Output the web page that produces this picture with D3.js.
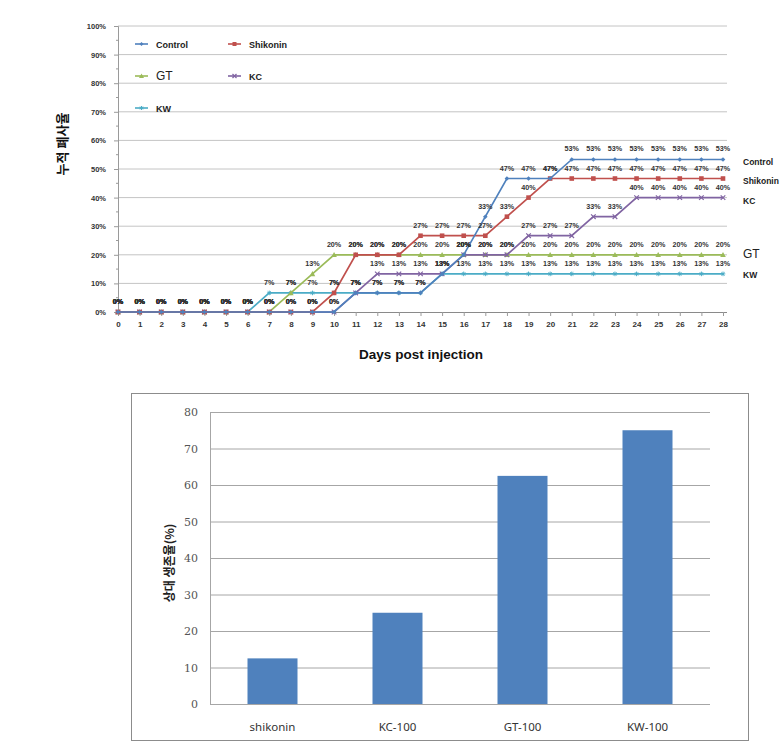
<!DOCTYPE html>
<html>
<head>
<meta charset="utf-8">
<script src="https://cdn.jsdelivr.net/npm/d3@7"></script>
<style>
  html, body { margin: 0; padding: 0; background: #fff; }
  svg { display: block; }
</style>
</head>
<body>
<svg id="chart" width="781" height="750"></svg>
<script>
// ---------- Data: top chart (cumulative mortality, %) ----------
const days = [0,1,2,3,4,5,6,7,8,9,10,11,12,13,14,15,16,17,18,19,20,21,22,23,24,25,26,27,28];
const controlVals  = [0,0,0,0,0,0,0,0,0,0,0,6.67,6.67,6.67,6.67,13.33,20,33.33,46.67,46.67,46.67,53.33,53.33,53.33,53.33,53.33,53.33,53.33,53.33];
const shikoninVals = [0,0,0,0,0,0,0,0,0,0,6.67,20,20,20,26.67,26.67,26.67,26.67,33.33,40,46.67,46.67,46.67,46.67,46.67,46.67,46.67,46.67,46.67];
const gtVals       = [0,0,0,0,0,0,0,0,6.67,13.33,20,20,20,20,20,20,20,20,20,20,20,20,20,20,20,20,20,20,20];
const kcVals       = [0,0,0,0,0,0,0,0,0,0,0,6.67,13.33,13.33,13.33,13.33,20,20,20,26.67,26.67,26.67,33.33,33.33,40,40,40,40,40];
const kwVals       = [0,0,0,0,0,0,0,6.67,6.67,6.67,6.67,6.67,6.67,6.67,6.67,13.33,13.33,13.33,13.33,13.33,13.33,13.33,13.33,13.33,13.33,13.33,13.33,13.33,13.33];
const seriesNames  = ["Control","Shikonin","GT","KC","KW"];
const seriesColors = ["#4f81bd","#c0504d","#9bbb59","#8064a2","#4bacc6"];
const yTicksTop    = [0,10,20,30,40,50,60,70,80,90,100];

// ---------- Data: bottom chart (relative survival, %) ----------
const barCats   = ["shikonin","KC-100","GT-100","KW-100"];
const barVals   = [12.5, 25, 62.5, 75];
const yTicksBot = [0,10,20,30,40,50,60,70,80];

const svg = d3.select("#chart");
const seriesVals = [controlVals, shikoninVals, gtVals, kcVals, kwVals];
const series = seriesNames.map((n,i)=>({name:n, color:seriesColors[i], values:seriesVals[i]}));

// ================= TOP CHART =================
const topG = svg.append("g");
const x = d3.scaleLinear().domain([0,28]).range([118,723]);
const y = d3.scaleLinear().domain([0,100]).range([312,26]);

// gridlines
topG.append("g").selectAll("line").data(yTicksTop.filter(d=>d>0)).join("line")
  .attr("x1",118).attr("x2",727)
  .attr("y1",d=>y(d)).attr("y2",d=>y(d))
  .attr("stroke","#c4c4c4").attr("stroke-width",1);

// y axis
const yAxis = d3.axisLeft(y).tickValues(yTicksTop).tickFormat(d=>d+"%").tickSize(4).tickPadding(8);
const yg = topG.append("g").attr("transform","translate(118,0)").call(yAxis);
yg.select(".domain").attr("stroke","#9a9a9a");
yg.selectAll(".tick line").attr("stroke","#9a9a9a");
yg.selectAll("text").attr("font-family","Liberation Sans, Arial, sans-serif")
  .attr("font-size",7.5).attr("font-weight","bold").attr("fill","#333");
// minor ticks
topG.append("g").selectAll("line").data(yTicksTop.slice(0,-1)).join("line")
  .attr("x1",116).attr("x2",118).attr("y1",d=>y(d+5)).attr("y2",d=>y(d+5))
  .attr("stroke","#9a9a9a");

// x axis
const xAxis = d3.axisBottom(x).tickValues(days).tickFormat(d=>d).tickSize(4).tickPadding(5);
const xg = topG.append("g").attr("transform","translate(0,312)").call(xAxis);
xg.select(".domain").attr("stroke","#8a8a8a").attr("d","M118,0.5H727");
xg.selectAll(".tick line").attr("stroke","#9a9a9a");
xg.selectAll("text").attr("font-family","Liberation Sans, Arial, sans-serif")
  .attr("font-size",8).attr("font-weight","bold").attr("fill","#333");

// axis titles
topG.append("text").attr("x",421).attr("y",359).attr("text-anchor","middle")
  .attr("font-family","Liberation Sans, Arial, sans-serif").attr("font-size",13.5)
  .attr("font-weight","bold").attr("fill","#111").text("Days post injection");
topG.append("text").attr("transform","translate(67,144) rotate(-90)").attr("text-anchor","middle")
  .attr("font-family","Noto Sans CJK KR, sans-serif").attr("font-size",13)
  .attr("font-weight","bold").attr("fill","#111").text("누적 폐사율");

// lines
const line = d3.line().x((d,i)=>x(days[i])).y(d=>y(d));
function drawMarker(g, name, color, cx, cy, s) {
  if (name==="Control") {
    g.append("path").attr("d",`M${cx},${cy-s}L${cx+s},${cy}L${cx},${cy+s}L${cx-s},${cy}Z`).attr("fill",color);
  } else if (name==="Shikonin") {
    g.append("rect").attr("x",cx-s).attr("y",cy-s).attr("width",2*s).attr("height",2*s).attr("fill",color);
  } else if (name==="GT") {
    g.append("path").attr("d",`M${cx},${cy-s-0.5}L${cx+s+0.5},${cy+s}L${cx-s-0.5},${cy+s}Z`).attr("fill",color);
  } else if (name==="KC") {
    g.append("path").attr("d",`M${cx-s},${cy-s}L${cx+s},${cy+s}M${cx-s},${cy+s}L${cx+s},${cy-s}`).attr("stroke",color).attr("stroke-width",1.2);
  } else {
    g.append("path").attr("d",`M${cx-s},${cy}L${cx+s},${cy}M${cx},${cy-s}L${cx},${cy+s}M${cx-s*0.7},${cy-s*0.7}L${cx+s*0.7},${cy+s*0.7}M${cx-s*0.7},${cy+s*0.7}L${cx+s*0.7},${cy-s*0.7}`).attr("stroke",color).attr("stroke-width",1);
  }
}
const drawOrder = [4,2,3,1,0];
drawOrder.forEach(k=>{
  const s = series[k];
  const g = topG.append("g");
  g.append("path").datum(s.values).attr("d",line).attr("fill","none")
    .attr("stroke",s.color).attr("stroke-width",1.7);
  s.values.forEach((v,i)=>drawMarker(g, s.name, s.color, x(days[i]), y(v), 2.3));
});
// data labels
const fmt = d=>Math.round(d)+"%";
series.forEach(s=>{
  topG.append("g").selectAll("text").data(s.values).join("text")
    .attr("x",(d,i)=>x(days[i])).attr("y",d=>y(d)-8)
    .attr("text-anchor","middle")
    .attr("font-family","Liberation Sans, Arial, sans-serif").attr("font-size",7.2)
    .attr("font-weight","bold").attr("fill","#333")
    .text(fmt);
});

// legend
const legendPos = [[135,44],[228,44],[135,76],[228,76],[135,108]];
series.forEach((s,i)=>{
  const [lx,ly] = legendPos[i];
  const g = topG.append("g");
  g.append("line").attr("x1",lx).attr("x2",lx+13).attr("y1",ly).attr("y2",ly)
    .attr("stroke",s.color).attr("stroke-width",1.6);
  drawMarker(g, s.name, s.color, lx+6.5, ly, 2);
  g.append("text").attr("x",lx+21).attr("y",ly+3.5)
    .attr("font-family","Liberation Sans, Arial, sans-serif")
    .attr("font-size", s.name==="GT" ? 12 : 9)
    .attr("font-weight", s.name==="GT" ? "normal" : "bold")
    .attr("fill","#222").text(s.name);
});

// right-side series labels
const rightY = {"Control":162,"Shikonin":181,"KC":201,"GT":255,"KW":275};
series.forEach(s=>{
  topG.append("text").attr("x",743).attr("y",rightY[s.name]+3)
    .attr("font-family","Liberation Sans, Arial, sans-serif")
    .attr("font-size", s.name==="GT" ? 12 : 8.5)
    .attr("font-weight", s.name==="GT" ? "normal" : "bold")
    .attr("fill","#222").text(s.name);
});

// ================= BOTTOM CHART =================
const bot = svg.append("g");
bot.append("rect").attr("x",131.5).attr("y",393.5).attr("width",617).attr("height",347)
  .attr("fill","#fff").attr("stroke","#8c8c8c").attr("stroke-width",1);

const xb = d3.scaleBand().domain(barCats).range([210,710]).paddingInner(0.6).paddingOuter(0.3);
const yb = d3.scaleLinear().domain([0,80]).range([704,412]);

bot.append("g").selectAll("line").data(yTicksBot).join("line")
  .attr("x1",210).attr("x2",710).attr("y1",d=>yb(d)+0.5).attr("y2",d=>yb(d)+0.5)
  .attr("stroke","#a6a6a6").attr("stroke-width",1);
bot.append("line").attr("x1",210.5).attr("x2",210.5).attr("y1",412).attr("y2",704)
  .attr("stroke","#a6a6a6");
const ybAxis = d3.axisLeft(yb).tickValues(yTicksBot).tickSize(0).tickPadding(12);
const ybg = bot.append("g").attr("transform","translate(210,0)").call(ybAxis);
ybg.select(".domain").remove();
ybg.selectAll("text").attr("font-family","DejaVu Serif, serif").attr("font-size",11)
  .attr("fill","#555");

bot.append("g").selectAll("rect").data(barVals).join("rect")
  .attr("x",(d,i)=>xb(barCats[i])).attr("width",xb.bandwidth())
  .attr("y",d=>yb(d)).attr("height",d=>yb(0)-yb(d))
  .attr("fill","#4f81bd");

const xbAxis = d3.axisBottom(xb).tickSize(0).tickPadding(19);
const xbg = bot.append("g").attr("transform","translate(0,704)").call(xbAxis);
xbg.select(".domain").remove();
xbg.selectAll("text").attr("font-family","Noto Sans, sans-serif").attr("font-size",11.5)
  .attr("fill","#333");

bot.append("text").attr("transform","translate(174,563) rotate(-90)").attr("text-anchor","middle")
  .attr("font-family","Noto Sans CJK KR, sans-serif").attr("font-size",12)
  .attr("font-weight","bold").attr("fill","#222").text("상대 생존율(%)");
</script>
</body>
</html>
